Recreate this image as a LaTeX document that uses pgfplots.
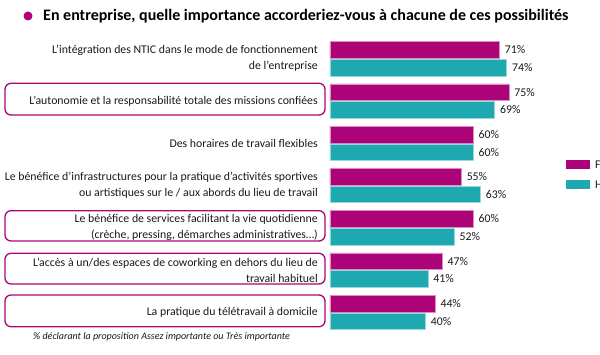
\documentclass[border=0pt]{standalone}
\usepackage{pgfplots}
\pgfplotsset{compat=1.18}
\usepackage{fontspec}
\setmainfont{Carlito}
\definecolor{fem}{RGB}{172,4,120}
\definecolor{hom}{RGB}{30,168,176}
\definecolor{txt}{RGB}{25,25,25}
\begin{document}
\begin{tikzpicture}[x=1pt,y=1pt]
\useasboundingbox (0,0) rectangle (600,354);
\clip (0,0) rectangle (600,354);
\fill[fem] (28,338) circle (4.5);
\node[anchor=west, font=\fontsize{16}{19}\selectfont\bfseries, inner sep=0, text=black] at (43,338) {En entreprise, quelle importance accorderiez-vous à chacune de ces possibilités};
\begin{axis}[at={(330pt,20.6pt)}, anchor=south west, scale only axis,
  width=238.5pt, height=295.75pt, xmin=0, xmax=100, ymin=-0.5, ymax=6.5,
  axis line style={draw=none}, major tick length=0pt, xtick=\empty,
  ytick={0,...,6}, clip=false, xbar, bar width=16.6pt,
  /pgf/number format/assume math mode=true,
  yticklabels={
    {La pratique du télétravail à domicile},
    {L’accès à un/des espaces de coworking en dehors du lieu de\\travail habituel},
    {Le bénéfice de services facilitant la vie quotidienne\\(crèche, pressing, démarches administratives…)},
    {Le bénéfice d’infrastructures pour la pratique d’activités sportives\\ou artistiques sur le / aux abords du lieu de travail},
    {Des horaires de travail flexibles},
    {L’autonomie et la responsabilité totale des missions confiées},
    {L’intégration des NTIC dans le mode de fonctionnement\\de l’entreprise}},
  yticklabel style={align=right, anchor=east, inner sep=0pt, xshift=-12pt, text=txt, font=\fontsize{11.8}{16}\selectfont},
  nodes near coords={\pgfmathprintnumber{\pgfplotspointmeta}\%},
  every node near coord/.append style={font=\fontsize{11.8}{14}\selectfont, text=txt, anchor=west, xshift=2pt},
]
\addplot[fill=fem, draw=fem!45!white, line width=0.5pt, bar shift=8.8pt] coordinates {(71,6) (75,5) (60,4) (55,3) (60,2) (47,1) (44,0)};
\addplot[fill=hom, draw=hom!45!white, line width=0.5pt, bar shift=-8.8pt] coordinates {(74,6) (69,5) (60,4) (63,3) (52,2) (41,1) (40,0)};
\end{axis}
\begin{scope}[draw=fem, line width=1.3pt, rounded corners=6pt]
\draw (5,239) rectangle (325,270.7);
\draw (5,113) rectangle (325,143.3);
\draw (5,70) rectangle (325,100.7);
\draw (5,27.3) rectangle (325,59);
\end{scope}
\fill[fem] (566,184.7) rectangle (590,194);
\fill[hom] (566,165) rectangle (590,174);
\node[anchor=west, inner sep=0, font=\fontsize{11.8}{14}\selectfont, text=txt] at (595,189.3) {Femmes};
\node[anchor=west, inner sep=0, font=\fontsize{11.8}{14}\selectfont, text=txt] at (595,169.5) {Hommes};
\node[anchor=west, inner sep=0, font=\fontsize{10}{12}\selectfont\itshape, text=txt] at (33,17.3) {\% déclarant la proposition Assez importante ou Très importante};
\end{tikzpicture}
\end{document}
